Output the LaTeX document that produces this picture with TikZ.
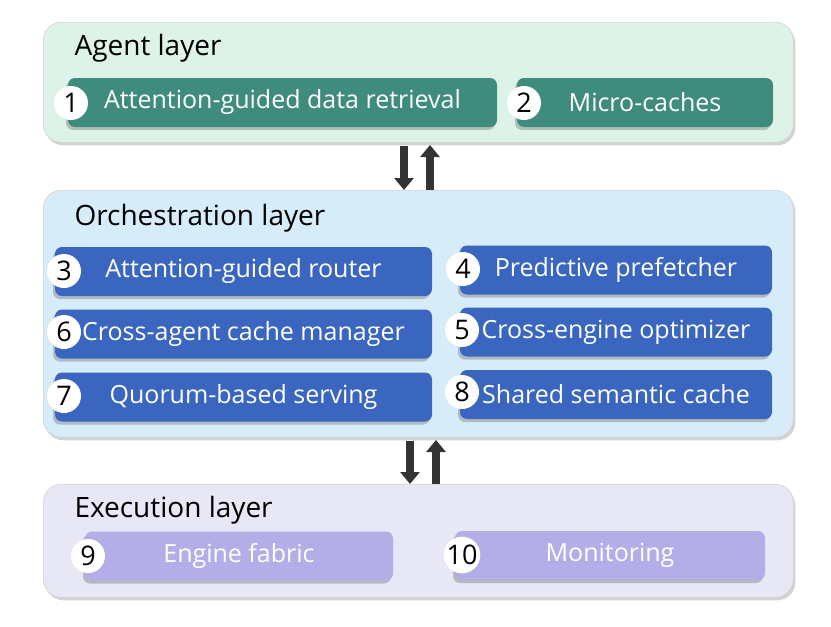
\documentclass[tikz,border=0pt]{standalone}
\usepackage{fontspec}
\setmainfont{Open Sans}
\usetikzlibrary{positioning, arrows.meta, shadows, calc}

\definecolor{agentbg}{HTML}{DDF3E8}
\definecolor{orchbg}{HTML}{D6ECF8}
\definecolor{execbg}{HTML}{E7E7F6}
\definecolor{agentbox}{HTML}{3F8C7E}
\definecolor{orchbox}{HTML}{3B66BF}
\definecolor{execbox}{HTML}{B4AEE8}
\definecolor{arrowgray}{HTML}{333333}

\tikzset{
  layer/.style={draw=gray!35, line width=0.6pt, rounded corners=18pt, anchor=north west,
    drop shadow={shadow xshift=2pt, shadow yshift=-3pt, opacity=0.35}},
  layertitle/.style={anchor=west, font=\fontsize{28}{32}\selectfont},
  item/.style={rounded corners=7pt, minimum height=49pt, text=white,
    font=\fontsize{25}{29}\selectfont,
    drop shadow={shadow xshift=-2pt, shadow yshift=-3pt, opacity=0.45}},
  num/.style={circle, fill=white, minimum size=34pt, inner sep=0pt,
    font=\fontsize{27}{31}\selectfont},
  flow/.style={arrowgray, line width=8pt, -{Triangle[width=19pt, length=12pt]}}
}

\begin{document}
\begin{tikzpicture}[x=1pt, y=-1pt]

    \useasboundingbox (0,0) rectangle (831,627);

    \node[layer, fill=agentbg, minimum width=750pt, minimum height=120pt] (agent) at (43,22) {};
    \node[layer, fill=orchbg, minimum width=750pt, minimum height=247pt] (orch) at (43,190) {};
    \node[layer, fill=execbg, minimum width=750pt, minimum height=113pt] (exec) at (43,484) {};

    \node[layertitle] (agenttitle) at (71,48) {Agent layer};
    \node[layertitle] (orchtitle) at (71,218) {Orchestration layer};
    \node[layertitle] (exectitle) at (71,510) {Execution layer};

    \node[item, fill=agentbox, minimum width=429pt] (retrieval) at (282.5,102.5) {Attention-guided data retrieval};
    \node[item, fill=agentbox, minimum width=256pt] (microcache) at (645,102.5) {Micro-caches};

    \node[item, fill=orchbox, minimum width=377pt] (router) at (243.5,271.5) {Attention-guided router};
    \node[item, fill=orchbox, minimum width=312pt] (prefetch) at (616,270) {Predictive prefetcher};
    \node[item, fill=orchbox, minimum width=377pt] (cachemgr) at (243.5,334) {Cross-agent cache manager};
    \node[item, fill=orchbox, minimum width=312pt] (optimizer) at (616,332) {Cross-engine optimizer};
    \node[item, fill=orchbox, minimum width=377pt] (quorum) at (243.5,397) {Quorum-based serving};
    \node[item, fill=orchbox, minimum width=312pt] (semcache) at (616,394.5) {Shared semantic cache};

    \node[item, fill=execbox, minimum width=308pt] (fabric) at (239,556) {Engine fabric};
    \node[item, fill=execbox, minimum width=310pt] (monitor) at (610,555.5) {Monitoring};

    \node[num] (n1) at (71,103) {1};
    \node[num] (n2) at (524,103) {2};
    \node[num] (n3) at (64,271) {3};
    \node[num] (n4) at (463,269) {4};
    \node[num] (n6) at (64,332) {6};
    \node[num] (n5) at (462,330) {5};
    \node[num] (n7) at (64,396) {7};
    \node[num] (n8) at (462,392) {8};
    \node[num] (n9) at (88,556) {9};
    \node[num, minimum size=30pt] (n10) at (462,555) {10};

    \coordinate (down1) at (404,146);
    \coordinate (up1) at (430,145);
    \coordinate (down2) at (410,441);
    \coordinate (up2) at (436,440);

    \draw[flow] (down1) -- (down1 |- orch.north);
    \draw[flow] (up1 |- orch.north) -- (up1);
    \draw[flow] (down2) -- (down2 |- exec.north);
    \draw[flow] (up2 |- exec.north) -- (up2);

  \end{tikzpicture}
\end{document}
